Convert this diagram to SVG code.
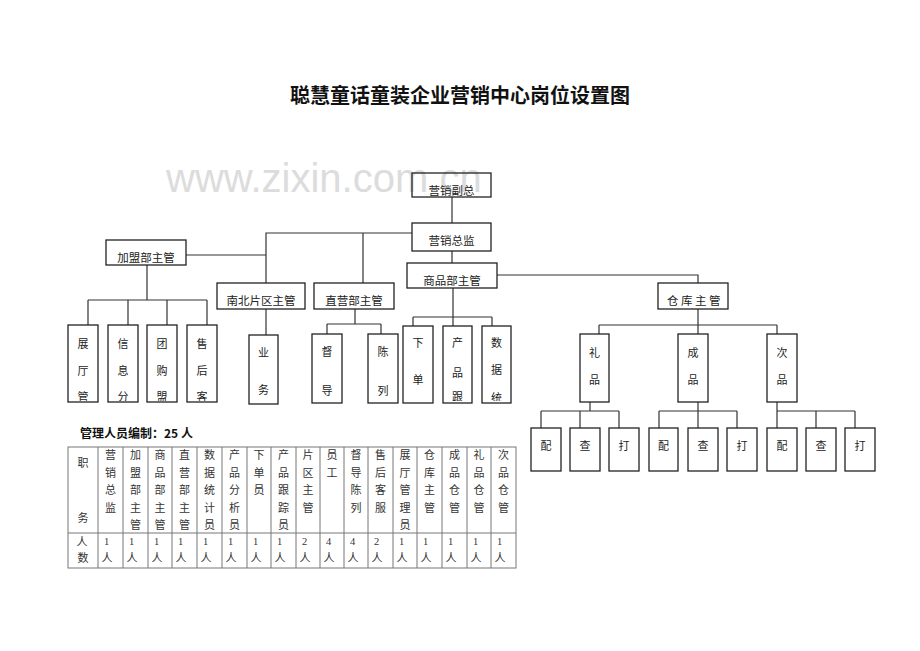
<svg xmlns="http://www.w3.org/2000/svg" width="920" height="651" viewBox="0 0 920 651">
<style>
.box{fill:none;stroke:#222;stroke-width:1.3}
.ln{fill:none;stroke:#333;stroke-width:1.2}
.lb{font-family:"Noto Sans CJK SC","Noto Sans",sans-serif;font-size:11.5px;fill:#222;text-anchor:middle}
.vt{font-family:"Noto Sans CJK SC","Noto Sans",sans-serif;font-size:11px;fill:#222;text-anchor:middle}
.tb{font-family:"Noto Sans CJK SC","Noto Sans",sans-serif;font-size:11px;fill:#333;text-anchor:middle}
.num{font-family:"Liberation Serif",serif;font-size:10.5px;fill:#333;text-anchor:middle}
.grid{fill:none;stroke:#777;stroke-width:1}
</style>
<defs>
<clipPath id="clipBot"><rect x="0" y="0" width="920" height="401"/></clipPath>
</defs>
<rect width="920" height="651" fill="#fff"/>
<text x="166" y="192" font-family="Liberation Sans, Arial, sans-serif" font-size="40" fill="#dcdcdc">www.zixin.com.cn</text>
<text x="460" y="103" font-family="Noto Sans CJK SC, sans-serif" font-size="20" font-weight="bold" fill="#111" text-anchor="middle">聪慧童话童装企业营销中心岗位设置图</text>

<g id="connectors">
<path class="ln" d="M452,197V223M452,251V263M412,233H266V283M363,233V283M186,255H266M497,275H698V283"/>
<path class="ln" d="M147,265V300M88,300H207M88,300V325M128,300V325M167,300V325M207,300V325"/>
<path class="ln" d="M266,309V335"/>
<path class="ln" d="M355,309V324M327,324H381M327,324V334M381,324V334"/>
<path class="ln" d="M453,288V317M413,317H492M413,317V326M453,317V326M492,317V326"/>
<path class="ln" d="M698,309V334M599,325H777M599,325V334M777,325V334"/>
<path class="ln" d="M590,402V411M541,411H619M541,411V428M580,411V428M619,411V428"/>
<path class="ln" d="M698,402V411M659,411H737M659,411V428M698,411V428M737,411V428"/>
<path class="ln" d="M777,402V428M777,411H855M816,411V428M855,411V428"/>
</g>

<g id="n-fuzong"><rect class="box" x="412" y="173" width="79" height="24"/><text class="lb" x="451.5" y="195">营销副总</text></g>
<g id="n-zongjian"><rect class="box" x="412" y="223" width="79" height="28"/><text class="lb" x="451.5" y="245">营销总监</text></g>
<g id="n-shangpin"><rect class="box" x="407" y="263" width="90" height="25"/><text class="lb" x="452" y="285">商品部主管</text></g>
<g id="n-jiameng"><rect class="box" x="106" y="240" width="80" height="25"/><text class="lb" x="146" y="262">加盟部主管</text></g>
<g id="n-nanbei"><rect class="box" x="217" y="283" width="88" height="26"/><text class="lb" x="261" y="305">南北片区主管</text></g>
<g id="n-zhiying"><rect class="box" x="314" y="283" width="80" height="26"/><text class="lb" x="354" y="305">直营部主管</text></g>
<g id="n-cangku"><rect class="box" x="658" y="283" width="70" height="26"/><text class="lb" x="695" y="305" letter-spacing="2.5" fill="#000">仓库主管</text></g>

<g id="n-zhanting"><rect class="box" x="68" y="325" width="30" height="77"/><text class="vt" clip-path="url(#clipBot)" x="83" y="348">展<tspan x="83" y="375">厅</tspan><tspan x="83" y="401">管</tspan></text></g>
<g id="n-xinxi"><rect class="box" x="108" y="325" width="30" height="77"/><text class="vt" clip-path="url(#clipBot)" x="123" y="348">信<tspan x="123" y="375">息</tspan><tspan x="123" y="401">分</tspan></text></g>
<g id="n-tuangou"><rect class="box" x="147" y="325" width="30" height="77"/><text class="vt" clip-path="url(#clipBot)" x="162" y="348">团<tspan x="162" y="375">购</tspan><tspan x="162" y="401">盟</tspan></text></g>
<g id="n-shouhou"><rect class="box" x="187" y="325" width="30" height="77"/><text class="vt" clip-path="url(#clipBot)" x="202" y="348">售<tspan x="202" y="375">后</tspan><tspan x="202" y="401">客</tspan></text></g>
<g id="n-yewu"><rect class="box" x="249" y="335" width="29" height="69"/><text class="vt" x="263.5" y="357">业<tspan x="263.5" y="394">务</tspan></text></g>
<g id="n-dudao"><rect class="box" x="312" y="334" width="30" height="69"/><text class="vt" x="327" y="356">督<tspan x="327" y="395">导</tspan></text></g>
<g id="n-chenlie"><rect class="box" x="368" y="334" width="30" height="69"/><text class="vt" x="383" y="356">陈<tspan x="383" y="395">列</tspan></text></g>
<g id="n-xiadan"><rect class="box" x="403" y="326" width="30" height="77"/><text class="vt" x="418" y="347">下<tspan x="418" y="384">单</tspan></text></g>
<g id="n-chanpin"><rect class="box" x="443" y="326" width="29" height="77"/><text class="vt" clip-path="url(#clipBot)" x="457.5" y="347">产<tspan x="457.5" y="377">品</tspan><tspan x="457.5" y="401">跟</tspan></text></g>
<g id="n-shuju"><rect class="box" x="482" y="326" width="29" height="77"/><text class="vt" clip-path="url(#clipBot)" x="496.5" y="347">数<tspan x="496.5" y="374">据</tspan><tspan x="496.5" y="402">统</tspan></text></g>

<g id="n-lipin"><rect class="box" x="580" y="334" width="29" height="68"/><text class="vt" x="594.5" y="357">礼<tspan x="594.5" y="384">品</tspan></text></g>
<g id="n-chengpin"><rect class="box" x="678" y="334" width="30" height="68"/><text class="vt" x="693" y="357">成<tspan x="693" y="384">品</tspan></text></g>
<g id="n-cipin"><rect class="box" x="767" y="334" width="30" height="68"/><text class="vt" x="782" y="357">次<tspan x="782" y="384">品</tspan></text></g>

<g id="n-lp-pei"><rect class="box" x="531" y="428" width="30" height="43"/><text class="vt" x="546" y="450">配</text></g>
<g id="n-lp-cha"><rect class="box" x="570" y="428" width="30" height="43"/><text class="vt" x="585" y="450">查</text></g>
<g id="n-lp-da"><rect class="box" x="609" y="428" width="30" height="43"/><text class="vt" x="624" y="450">打</text></g>
<g id="n-cp-pei"><rect class="box" x="649" y="428" width="29" height="43"/><text class="vt" x="663.5" y="450">配</text></g>
<g id="n-cp-cha"><rect class="box" x="688" y="428" width="30" height="43"/><text class="vt" x="703" y="450">查</text></g>
<g id="n-cp-da"><rect class="box" x="727" y="428" width="30" height="43"/><text class="vt" x="742" y="450">打</text></g>
<g id="n-ci-pei"><rect class="box" x="767" y="428" width="30" height="43"/><text class="vt" x="782" y="450">配</text></g>
<g id="n-ci-cha"><rect class="box" x="806" y="428" width="30" height="43"/><text class="vt" x="821" y="450">查</text></g>
<g id="n-ci-da"><rect class="box" x="845" y="428" width="30" height="43"/><text class="vt" x="860" y="450">打</text></g>

<g id="staff-table">
<text x="80" y="438" font-family="Noto Sans CJK SC, sans-serif" font-size="12" font-weight="bold" fill="#111">管理人员编制：25 人</text>
<rect class="grid" x="68" y="447" width="448" height="121"/>
<path class="grid" d="M68,533H516M98,447V568M123,447V568M148,447V568M172,447V568M197,447V568M222,447V568M247,447V568M271,447V568M296,447V568M320,447V568M344,447V568M368,447V568M393,447V568M417,447V568M442,447V568M467,447V568M491,447V568"/>
<text class="tb" x="83" y="467">职</text><text class="tb" x="83" y="522">务</text>
<text class="tb" x="82" y="546">人</text><text class="tb" x="83" y="562">数</text>
<text class="tb" x="110.5" y="459">营<tspan x="110.5" dy="17.5">销</tspan><tspan x="110.5" dy="17.5">总</tspan><tspan x="110.5" dy="17.5">监</tspan></text>
<text class="tb" x="135.5" y="459">加<tspan x="135.5" dy="17.5">盟</tspan><tspan x="135.5" dy="17.5">部</tspan><tspan x="135.5" dy="17.5">主</tspan><tspan x="135.5" dy="17.5">管</tspan></text>
<text class="tb" x="160" y="459">商<tspan x="160" dy="17.5">品</tspan><tspan x="160" dy="17.5">部</tspan><tspan x="160" dy="17.5">主</tspan><tspan x="160" dy="17.5">管</tspan></text>
<text class="tb" x="184.5" y="459">直<tspan x="184.5" dy="17.5">营</tspan><tspan x="184.5" dy="17.5">部</tspan><tspan x="184.5" dy="17.5">主</tspan><tspan x="184.5" dy="17.5">管</tspan></text>
<text class="tb" x="209.5" y="459">数<tspan x="209.5" dy="17.5">据</tspan><tspan x="209.5" dy="17.5">统</tspan><tspan x="209.5" dy="17.5">计</tspan><tspan x="209.5" dy="17.5">员</tspan></text>
<text class="tb" x="234.5" y="459">产<tspan x="234.5" dy="17.5">品</tspan><tspan x="234.5" dy="17.5">分</tspan><tspan x="234.5" dy="17.5">析</tspan><tspan x="234.5" dy="17.5">员</tspan></text>
<text class="tb" x="259" y="459">下<tspan x="259" dy="17.5">单</tspan><tspan x="259" dy="17.5">员</tspan></text>
<text class="tb" x="283.5" y="459">产<tspan x="283.5" dy="17.5">品</tspan><tspan x="283.5" dy="17.5">跟</tspan><tspan x="283.5" dy="17.5">踪</tspan><tspan x="283.5" dy="17.5">员</tspan></text>
<text class="tb" x="308" y="459">片<tspan x="308" dy="17.5">区</tspan><tspan x="308" dy="17.5">主</tspan><tspan x="308" dy="17.5">管</tspan></text>
<text class="tb" x="332" y="459">员<tspan x="332" dy="17.5">工</tspan></text>
<text class="tb" x="356" y="459">督<tspan x="356" dy="17.5">导</tspan><tspan x="356" dy="17.5">陈</tspan><tspan x="356" dy="17.5">列</tspan></text>
<text class="tb" x="380.5" y="459">售<tspan x="380.5" dy="17.5">后</tspan><tspan x="380.5" dy="17.5">客</tspan><tspan x="380.5" dy="17.5">服</tspan></text>
<text class="tb" x="405" y="459">展<tspan x="405" dy="17.5">厅</tspan><tspan x="405" dy="17.5">管</tspan><tspan x="405" dy="17.5">理</tspan><tspan x="405" dy="17.5">员</tspan></text>
<text class="tb" x="429.5" y="459">仓<tspan x="429.5" dy="17.5">库</tspan><tspan x="429.5" dy="17.5">主</tspan><tspan x="429.5" dy="17.5">管</tspan></text>
<text class="tb" x="454.5" y="459">成<tspan x="454.5" dy="17.5">品</tspan><tspan x="454.5" dy="17.5">仓</tspan><tspan x="454.5" dy="17.5">管</tspan></text>
<text class="tb" x="479" y="459">礼<tspan x="479" dy="17.5">品</tspan><tspan x="479" dy="17.5">仓</tspan><tspan x="479" dy="17.5">管</tspan></text>
<text class="tb" x="503.5" y="459">次<tspan x="503.5" dy="17.5">品</tspan><tspan x="503.5" dy="17.5">仓</tspan><tspan x="503.5" dy="17.5">管</tspan></text>
<g class="num">
<text x="106.5" y="545">1</text><text x="131.5" y="545">1</text><text x="156.5" y="545">1</text><text x="180.5" y="545">1</text><text x="205.5" y="545">1</text><text x="230.5" y="545">1</text><text x="255.5" y="545">1</text><text x="279.5" y="545">1</text><text x="304.5" y="545">2</text><text x="328.5" y="545">4</text><text x="352.5" y="545">4</text><text x="376.5" y="545">2</text><text x="401.5" y="545">1</text><text x="425.5" y="545">1</text><text x="450.5" y="545">1</text><text x="475.5" y="545">1</text><text x="499.5" y="545">1</text>
</g>
<g class="tb">
<text x="107" y="562">人</text><text x="132" y="562">人</text><text x="157" y="562">人</text><text x="181" y="562">人</text><text x="206" y="562">人</text><text x="231" y="562">人</text><text x="256" y="562">人</text><text x="280" y="562">人</text><text x="305" y="562">人</text><text x="329" y="562">人</text><text x="353" y="562">人</text><text x="377" y="562">人</text><text x="402" y="562">人</text><text x="426" y="562">人</text><text x="451" y="562">人</text><text x="476" y="562">人</text><text x="500" y="562">人</text>
</g>
</g>
</svg>
